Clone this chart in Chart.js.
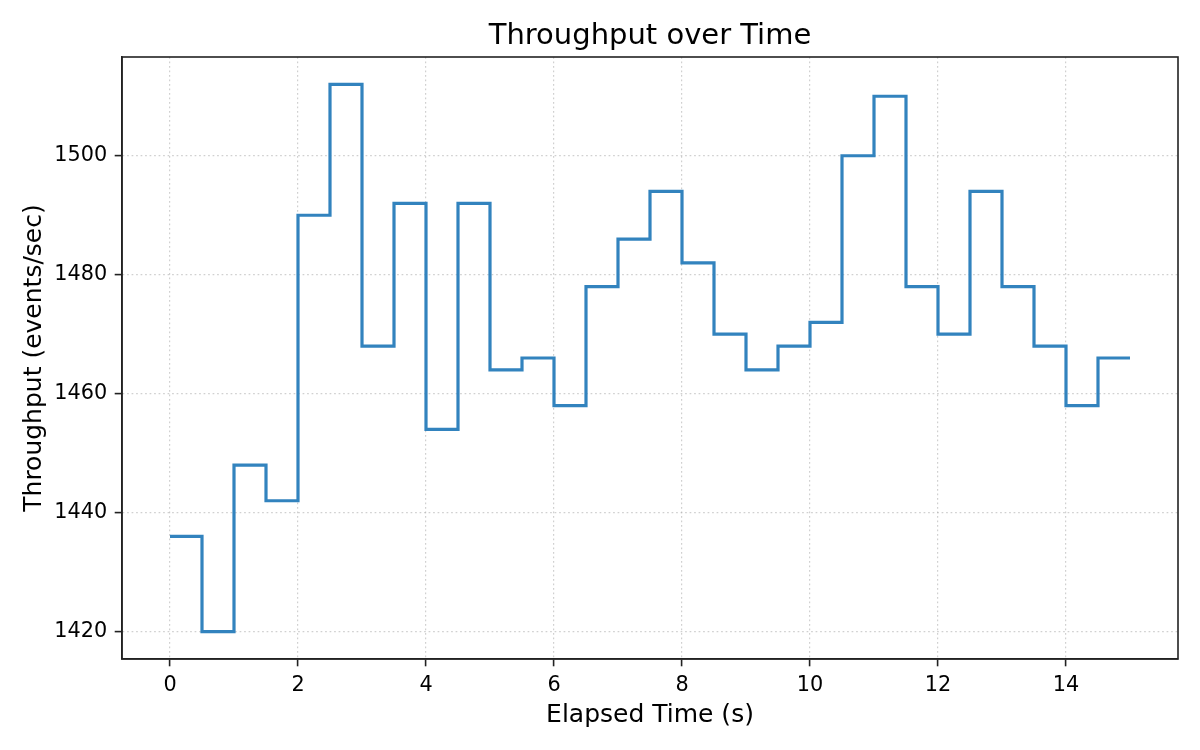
<!DOCTYPE html>
<html>
<head>
<meta charset="utf-8">
<script src="https://cdn.jsdelivr.net/npm/chart.js@4"></script>
<style>
  html, body { margin: 0; padding: 0; background: #fff; }
  #wrap { width: 1200px; height: 750px; position: relative; }
</style>
</head>
<body>
<div id="wrap"><canvas id="throughputChart"></canvas></div>
<script>
// elapsed time (s) and throughput readings, one every half second
const timeValues = [0, 0.5, 1, 1.5, 2, 2.5, 3, 3.5, 4, 4.5, 5, 5.5, 6, 6.5, 7, 7.5,
  8, 8.5, 9, 9.5, 10, 10.5, 11, 11.5, 12, 12.5, 13, 13.5, 14, 14.5, 15];
const throughputValues = [1436, 1420, 1448, 1442, 1490, 1512, 1468, 1492, 1454, 1492,
  1464, 1466, 1458, 1478, 1486, 1494, 1482, 1470, 1464, 1468, 1472, 1500, 1510, 1478,
  1470, 1494, 1478, 1468, 1458, 1466, 1466];

const xTickValues = [0, 2, 4, 6, 8, 10, 12, 14];
const yTickValues = [1420, 1440, 1460, 1480, 1500];

const FONT = 'DejaVu Sans';
const GRID_COLOR = 'rgba(176,176,176,0.6)';

// box round the plot area, like matplotlib spines
const frame = {
  id: 'frame',
  afterDraw(chart) {
    const { ctx, chartArea: a } = chart;
    ctx.save();
    ctx.strokeStyle = '#222';
    ctx.lineWidth = 1.6;
    ctx.strokeRect(a.left, a.top, a.right - a.left, a.bottom - a.top);
    ctx.restore();
  }
};

const ctx = document.getElementById('throughputChart').getContext('2d');

new Chart(ctx, {
  type: 'line',
  data: {
    datasets: [{
      data: timeValues.map((t, i) => ({ x: t, y: throughputValues[i] })),
      borderColor: '#3283be',
      borderWidth: 3.2,
      stepped: 'before',
      pointRadius: 0,
      fill: false
    }]
  },
  options: {
    responsive: true,
    maintainAspectRatio: false,
    animation: false,
    devicePixelRatio: 1,
    layout: { padding: { left: 0, right: 22, top: 0, bottom: 0 } },
    plugins: {
      legend: { display: false },
      tooltip: { enabled: false },
      title: {
        display: true,
        fullSize: false,
        text: 'Throughput over Time',
        color: '#000',
        font: { family: FONT, size: 29, weight: 'normal' },
        padding: { top: 19, bottom: 3.2 }
      }
    },
    scales: {
      x: {
        type: 'linear',
        min: -0.75,
        max: 15.75,
        afterBuildTicks: s => { s.ticks = xTickValues.map(v => ({ value: v })); },
        afterFit: s => { s.height = 91; },
        ticks: {
          color: '#000',
          font: { family: FONT, size: 20.8 },
          padding: 7,
          maxRotation: 0,
          callback: v => String(v)
        },
        grid: {
          color: GRID_COLOR,
          lineWidth: 1.2,
          tickColor: '#222',
          tickLength: 7.3,
          tickWidth: 1.6,
          tickBorderDash: []
        },
        border: { display: true, color: '#222', width: 1.6, dash: [1.7, 2.8] },
        title: {
          display: true,
          text: 'Elapsed Time (s)',
          color: '#000',
          font: { family: FONT, size: 25 },
          padding: { top: 0, bottom: 20 }
        }
      },
      y: {
        type: 'linear',
        min: 1415.4,
        max: 1516.6,
        afterBuildTicks: s => { s.ticks = yTickValues.map(v => ({ value: v })); },
        afterFit: s => { s.width = 122; },
        ticks: {
          color: '#000',
          font: { family: FONT, size: 20.8 },
          padding: 7.5,
          callback: v => String(v)
        },
        grid: {
          color: GRID_COLOR,
          lineWidth: 1.2,
          tickColor: '#222',
          tickLength: 7.3,
          tickWidth: 1.6,
          tickBorderDash: []
        },
        border: { display: true, color: '#222', width: 1.6, dash: [1.7, 2.8] },
        title: {
          display: true,
          text: 'Throughput (events/sec)',
          color: '#000',
          font: { family: FONT, size: 25 },
          padding: { top: 19.5, bottom: 0 }
        }
      }
    }
  },
  plugins: [frame]
});
</script>
</body>
</html>
